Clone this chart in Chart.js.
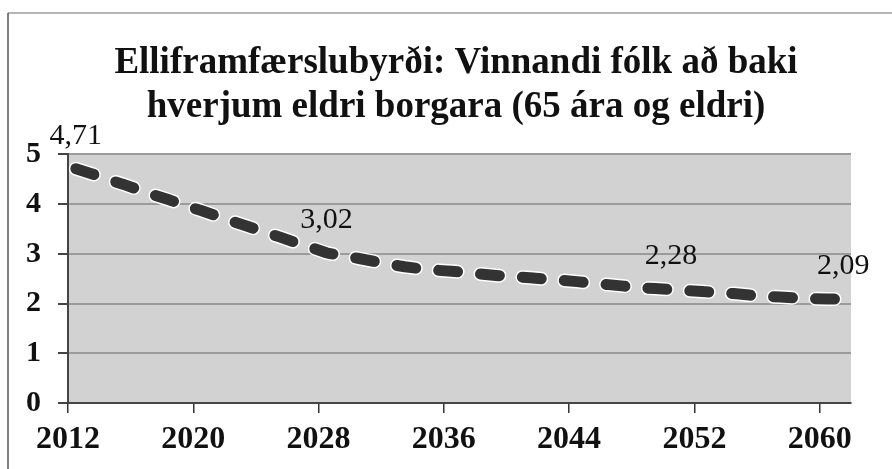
<!DOCTYPE html>
<html>
<head>
<meta charset="utf-8">
<script src="https://cdn.jsdelivr.net/npm/chart.js@4.4.1/dist/chart.umd.min.js"></script>
<style>
  html, body { margin: 0; padding: 0; background: #fff; }
</style>
</head>
<body>
<canvas id="chart" width="892" height="469"></canvas>
<script>
// Vinnandi fólk á hvern eldri borgara, eitt gildi á ári (lesið af myndinni)
const firstYear = 2012;
const ratio = [
  4.71, 4.61, 4.50, 4.40, 4.29, 4.18, 4.08, 3.97, 3.87, 3.76,
  3.65, 3.55, 3.44, 3.34, 3.23, 3.13, 3.02, 2.96, 2.91, 2.85,
  2.79, 2.74, 2.70, 2.67, 2.65, 2.62, 2.59, 2.56, 2.54, 2.52,
  2.49, 2.47, 2.44, 2.41, 2.38, 2.35, 2.32, 2.30, 2.28, 2.26,
  2.24, 2.22, 2.20, 2.17, 2.14, 2.13, 2.11, 2.10, 2.09, 2.09
];
const years = ratio.map((v, i) => String(firstYear + i));
const labelIdx = [0, 16, 38, 49];
const xTicks = [2012, 2020, 2028, 2036, 2044, 2052, 2060];
const yTicks = [0, 1, 2, 3, 4, 5];
const titleLines = [
  'Elliframfærslubyrði: Vinnandi fólk að baki',
  'hverjum eldri borgara (65 ára og eldri)'
];

const serif = "'Liberation Serif', 'Times New Roman', serif";
const dash = [19, 23];

const framePlugin = {
  id: 'frame',
  beforeDraw(chart) {
    const {ctx, chartArea: a, width, height} = chart;
    ctx.save();
    ctx.fillStyle = '#fff';
    ctx.fillRect(0, 0, width, height);
    ctx.fillStyle = '#d2d2d2';
    ctx.fillRect(a.left, a.top, a.right - a.left, a.bottom - a.top);
    // outer box of the scanned figure
    ctx.lineWidth = 1.5;
    ctx.strokeStyle = '#9c9c9c';
    ctx.beginPath();
    ctx.moveTo(8, 13);
    ctx.lineTo(width, 13);
    ctx.stroke();
    ctx.strokeStyle = '#555';
    ctx.beginPath();
    ctx.moveTo(8, 13);
    ctx.lineTo(8, height);
    ctx.stroke();
    ctx.restore();
  }
};

const valueLabels = {
  id: 'valueLabels',
  afterDatasetsDraw(chart) {
    const {ctx} = chart;
    const meta = chart.getDatasetMeta(0);
    ctx.save();
    ctx.font = '30px ' + serif;
    ctx.fillStyle = '#111';
    ctx.textAlign = 'center';
    ctx.textBaseline = 'middle';
    labelIdx.forEach(i => {
      const pt = meta.data[i];
      ctx.fillText(ratio[i].toFixed(2).replace('.', ','), pt.x, pt.y - 33);
    });
    ctx.restore();
  }
};

new Chart(document.getElementById('chart').getContext('2d'), {
  type: 'line',
  data: {
    labels: years,
    datasets: [
      {
        data: ratio,
        borderColor: '#333333',
        borderWidth: 11,
        borderDash: dash,
        borderCapStyle: 'round',
        borderJoinStyle: 'round',
        pointRadius: 0,
        tension: 0,
        xAxisID: 'x',
        order: 0
      },
      {
        data: ratio,
        borderColor: '#ffffff',
        borderWidth: 14,
        borderDash: dash,
        borderCapStyle: 'round',
        borderJoinStyle: 'round',
        pointRadius: 0,
        tension: 0,
        xAxisID: 'x',
        order: 1
      }
    ]
  },
  options: {
    responsive: false,
    animation: false,
    layout: { padding: { left: 20, right: 0, top: 0, bottom: 0 } },
    plugins: {
      legend: { display: false },
      tooltip: { enabled: false },
      title: {
        display: true,
        text: titleLines,
        color: '#111',
        font: { family: serif, size: 37, weight: 'bold', lineHeight: 1.18 },
        padding: { top: 42, bottom: 25 }
      }
    },
    scales: {
      x: {
        type: 'category',
        offset: true,
        display: false
      },
      xt: {
        type: 'linear',
        position: 'bottom',
        min: 2012,
        max: 2062,
        afterBuildTicks: s => { s.ticks = xTicks.map(v => ({ value: v })); },
        afterFit: s => { s.height = 66; },
        grid: { drawOnChartArea: false, drawTicks: true, tickLength: 10, color: '#333', lineWidth: 1.5 },
        border: { display: true, color: '#444', width: 2 },
        ticks: {
          color: '#111',
          padding: 8,
          maxRotation: 0,
          font: { family: serif, size: 32, weight: 'bold' },
          callback: v => String(v)
        }
      },
      y: {
        min: 0,
        max: 5,
        afterBuildTicks: s => { s.ticks = yTicks.map(v => ({ value: v })); },
        afterFit: s => { s.width = 48; },
        grid: { color: '#9b9b9b', lineWidth: 2, tickLength: 10, tickColor: '#444' },
        border: { display: true, color: '#444', width: 2 },
        ticks: {
          color: '#111',
          padding: 17,
          font: { family: serif, size: 30, weight: 'bold' },
          callback: v => String(v)
        }
      },
      // empty right-hand strip so the plot stops where the scan's plot stops
      yr: {
        position: 'right',
        min: 0,
        max: 5,
        grid: { display: false },
        border: { display: false },
        ticks: { display: false },
        afterFit: s => { s.width = 41; }
      }
    }
  },
  plugins: [framePlugin, valueLabels]
});
</script>
</body>
</html>
